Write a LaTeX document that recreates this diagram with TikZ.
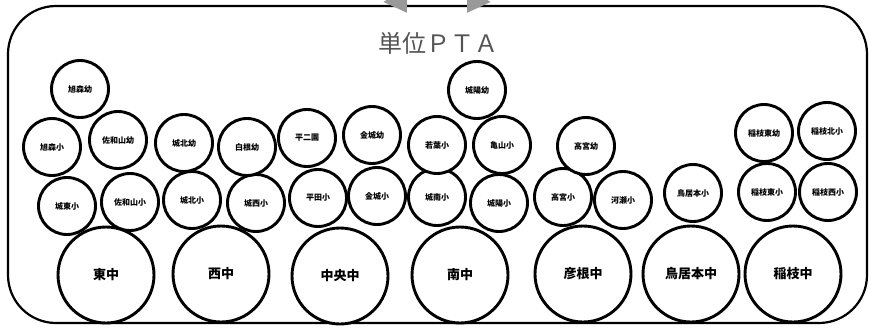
\documentclass[tikz,border=0pt]{standalone}
\usepackage{fontspec}
\newfontfamily\jpfont{Noto Sans CJK JP}
\usetikzlibrary{arrows.meta}
\definecolor{titlegray}{rgb}{0.33,0.33,0.33}
\definecolor{arrowgray}{rgb}{0.6,0.6,0.6}

\begin{document}
\begin{tikzpicture}[
            x = 1pt, y = -1pt, % pixel grid, y pointing down
            semithick % line style
        ]

        \tikzstyle{school}=[
            circle,
            draw = black,
            line width = 2.9pt,
            inner sep = 0pt,
            fill = white,
            font = \jpfont\bfseries\fontsize{8}{9}\selectfont
        ]
        \tikzstyle{small}=[school, minimum size = 57pt]
        \tikzstyle{big}=[school, minimum size = 96pt, font = \jpfont\bfseries\fontsize{13}{14}\selectfont]
        \tikzstyle{feed}=[draw = arrowgray, line width = 7pt, -{Triangle[length=22pt,width=26pt]}]

        \useasboundingbox (0,0) rectangle (869,327);

        % frame
        \draw[line width = 2.2pt, rounded corners = 48pt] (8,6) rectangle (867,323);
        \node[font = \jpfont\fontsize{24}{26}\selectfont, text = titlegray] (T) at (438,43) {単位ＰＴＡ};

        % junior high level
        \node[big] (J1) at (106,275) {東中};
        \node[big] (J2) at (221,274) {西中};
        \node[big] (J3) at (340,276) {中央中};
        \node[big] (J4) at (460,275) {南中};
        \node[big] (J5) at (583,274) {彦根中};
        \node[big] (J6) at (691,274) {鳥居本中};
        \node[big] (J7) at (793,274) {稲枝中};

        % elementary level
        \node[small] (E1) at (67,206) {城東小};
        \node[small] (E2) at (130,202) {佐和山小};
        \node[small] (E3) at (192,200) {城北小};
        \node[small] (E4) at (256,203) {城西小};
        \node[small] (E5) at (318,198) {平田小};
        \node[small] (E6) at (377,196) {金城小};
        \node[small] (E7) at (437,197) {城南小};
        \node[small] (E8) at (499,203) {城陽小};
        \node[small] (E9) at (563,197) {高宮小};
        \node[small] (E10) at (623,200) {河瀬小};
        \node[small] (E11) at (693,193) {鳥居本小};
        \node[small] (E12) at (767,192) {稲枝東小};
        \node[small] (E13) at (828,192) {稲枝西小};

        \node[small] (E14) at (52,147) {旭森小};
        \node[small] (E15) at (437,145) {若葉小};
        \node[small] (E16) at (502,145) {亀山小};
        \node[small] (E17) at (827,131) {稲枝北小};

        % kindergarten level
        \node[small] (K1) at (80,89) {旭森幼};
        \node[small] (K2) at (118,140) {佐和山幼};
        \node[small] (K3) at (184,143) {城北幼};
        \node[small] (K4) at (247,147) {白根幼};
        \node[small] (K5) at (307,138) {平二園};
        \node[small] (K6) at (372,135) {金城幼};
        \node[small] (K7) at (477,90) {城陽幼};
        \node[small] (K8) at (586,146) {高宮幼};
        \node[small] (K9) at (764,133) {稲枝東幼};

        % links to the level above
        \coordinate (upL) at (378,-32);
        \coordinate (tipL) at (407,13);
        \coordinate (upR) at (496,-32);
        \coordinate (tipR) at (467,13);
        \draw[feed] (upL) -- (tipL);
        \draw[feed] (upR) -- (tipR);

  \end{tikzpicture}
\end{document}
